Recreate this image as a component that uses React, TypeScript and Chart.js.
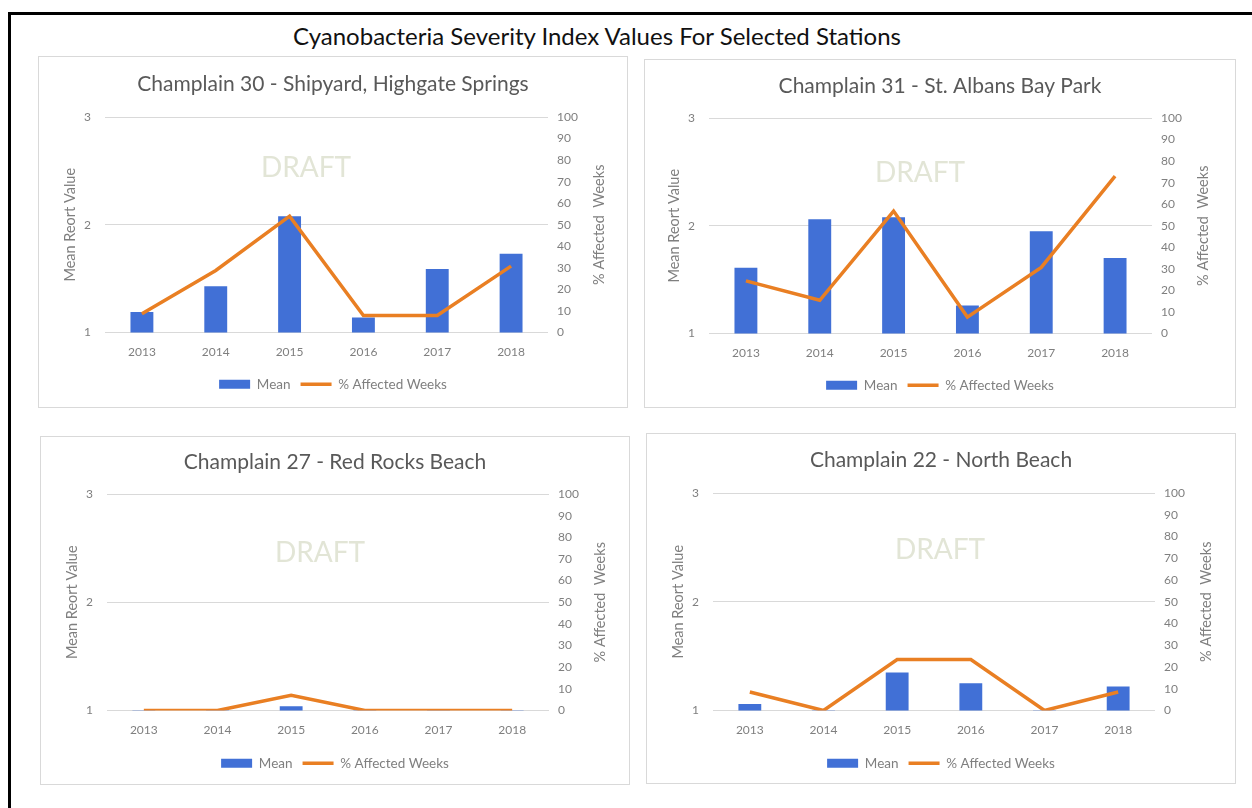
import React, { useEffect, useRef } from 'react';
import { Chart, registerables } from 'chart.js';

Chart.register(...registerables);

// ---------- data ----------
const years = ['2013', '2014', '2015', '2016', '2017', '2018'];
const mainTitle = 'Cyanobacteria Severity Index Values For Selected Stations';
const stationTitles = [
  'Champlain 30 - Shipyard, Highgate Springs',
  'Champlain 31 - St. Albans Bay Park',
  'Champlain 27 - Red Rocks Beach',
  'Champlain 22 - North Beach',
];
const mean30 = [1.19, 1.43, 2.08, 1.14, 1.59, 1.73];
const pct30 = [8.7, 28.8, 54, 7.9, 7.9, 30.8];
const mean31 = [1.61, 2.06, 2.08, 1.26, 1.95, 1.7];
const pct31 = [24.4, 15.4, 56.8, 7.6, 30.7, 73];
const mean27 = [1, 1, 1.04, 1, 1, 1];
const pct27 = [0, 0, 7, 0, 0, 0];
const mean22 = [1.06, 1, 1.35, 1.25, 1, 1.22];
const pct22 = [8.5, 0, 23.4, 23.4, 0, 8.5];
const leftTicks = { min: 1, max: 3, step: 1 };
const rightTicks = { min: 0, max: 100, step: 10 };
const seriesNames = ['Mean', '% Affected Weeks'];
const axisTitles = ['Mean Reort Value', '% Affected  Weeks'];
const watermark = 'DRAFT';

// ---------- styling / layout ----------
const FONT = 'Lato, "Open Sans", sans-serif';
const BLUE = '#4170D6';
const ORANGE = '#E97F23';

const panels = [
  { title: stationTitles[0], mean: mean30, pct: pct30, box: { left: 38, top: 56, width: 590, height: 352 }, yW: 66, y1W: 79, tTop: 14.4, tBot: 20.4, xH: 35, padB: 6, draft: [201, 51] },
  { title: stationTitles[1], mean: mean31, pct: pct31, box: { left: 644, top: 59, width: 592, height: 349 }, yW: 64, y1W: 83, tTop: 13.4, tBot: 19.4, xH: 35, padB: 5, draft: [211, 55] },
  { title: stationTitles[2], mean: mean27, pct: pct27, box: { left: 40, top: 436, width: 590, height: 349 }, yW: 66, y1W: 80, tTop: 12.4, tBot: 19.4, xH: 36, padB: 4, draft: [213, 59] },
  { title: stationTitles[3], mean: mean22, pct: pct22, box: { left: 646, top: 433, width: 590, height: 351 }, yW: 66, y1W: 80, tTop: 13.4, tBot: 20.4, xH: 36, padB: 3, draft: [227, 57] },
];

const extrasPlugin = {
  id: 'extras',
  beforeDatasetsDraw(chart: any, _args: any, opts: any) {
    const ca = chart.chartArea;
    const ctx = chart.ctx;
    ctx.save();
    ctx.font = `28px ${FONT}`;
    ctx.fillStyle = '#e2e5d6';
    ctx.textAlign = 'center';
    ctx.textBaseline = 'middle';
    ctx.fillText(watermark, ca.left + opts.draftX, ca.top + opts.draftY);
    ctx.restore();
  },
  afterDraw(chart: any) {
    const ca = chart.chartArea;
    const ctx = chart.ctx;
    const cy = (ca.top + ca.bottom) / 2;
    const drawV = (text: string, x: number) => {
      ctx.save();
      ctx.font = `14.5px ${FONT}`;
      ctx.fillStyle = '#7f7f7f';
      ctx.textAlign = 'center';
      ctx.textBaseline = 'middle';
      ctx.translate(x, cy);
      ctx.rotate(-Math.PI / 2);
      ctx.fillText(text, 0, 0);
      ctx.restore();
    };
    drawV(axisTitles[0], ca.left - 35);
    drawV(axisTitles[1], ca.right + 51);
  },
};

function Panel({ cfg }: { cfg: any }) {
  const ref = useRef<HTMLCanvasElement | null>(null);
  useEffect(() => {
    if (!ref.current) return;
    const chart = new Chart(ref.current, {
      type: 'bar',
      data: {
        labels: years,
        datasets: [
          {
            type: 'bar',
            label: seriesNames[0],
            data: cfg.mean,
            yAxisID: 'y',
            backgroundColor: BLUE,
            borderWidth: 0,
            barPercentage: 0.31,
            categoryPercentage: 1,
            pointStyle: 'rect',
            order: 2,
          } as any,
          {
            type: 'line',
            label: seriesNames[1],
            data: cfg.pct,
            yAxisID: 'y1',
            borderColor: ORANGE,
            backgroundColor: ORANGE,
            borderWidth: 3.5,
            pointRadius: 0,
            pointStyle: 'line',
            tension: 0,
            order: 1,
          } as any,
        ],
      },
      options: {
        responsive: false,
        animation: false,
        layout: { padding: { left: 0, right: 0, top: 0, bottom: cfg.padB } },
        scales: {
          x: {
            grid: { display: false, drawTicks: false },
            border: { display: false },
            ticks: { color: '#7f7f7f', font: { family: FONT, size: 12 }, padding: 12, maxRotation: 0 },
            afterFit: (s: any) => { s.height = cfg.xH; },
          },
          y: {
            position: 'left',
            min: leftTicks.min,
            max: leftTicks.max,
            grid: { color: '#d9d9d9', lineWidth: 1, drawTicks: false },
            border: { display: false },
            ticks: { stepSize: leftTicks.step, color: '#7f7f7f', font: { family: FONT, size: 12 }, padding: 14 },
            afterFit: (s: any) => { s.width = cfg.yW; },
          },
          y1: {
            position: 'right',
            min: rightTicks.min,
            max: rightTicks.max,
            grid: { display: false, drawTicks: false },
            border: { display: false },
            ticks: { stepSize: rightTicks.step, color: '#7f7f7f', font: { family: FONT, size: 12 }, padding: 9 },
            afterFit: (s: any) => { s.width = cfg.y1W; },
          },
        },
        plugins: {
          title: {
            display: true,
            text: cfg.title,
            color: '#595959',
            font: { family: FONT, size: 21, weight: 'normal', lineHeight: 1.2 },
            padding: { top: cfg.tTop, bottom: cfg.tBot },
          },
          legend: {
            display: true,
            position: 'bottom',
            labels: {
              usePointStyle: true,
              pointStyleWidth: 31,
              boxHeight: 9,
              padding: 10,
              color: '#7f7f7f',
              font: { family: FONT, size: 13.5 },
              sort: (a: any, b: any) => a.datasetIndex - b.datasetIndex,
            },
          },
          tooltip: { enabled: false },
          extras: { draftX: cfg.draft[0], draftY: cfg.draft[1] },
        } as any,
      },
      plugins: [extrasPlugin as any],
    });
    return () => chart.destroy();
  }, [cfg]);
  const b = cfg.box;
  return (
    <div
      style={{
        position: 'absolute',
        left: b.left,
        top: b.top,
        width: b.width,
        height: b.height,
        boxSizing: 'border-box',
        border: '1px solid #d9d9d9',
        background: '#fff',
      }}
    >
      <canvas ref={ref} width={b.width - 2} height={b.height - 2} style={{ display: 'block' }} />
    </div>
  );
}

export default function App() {
  return (
    <div style={{ position: 'absolute', left: 0, top: 0, width: 1252, height: 808, background: '#fff', overflow: 'hidden', fontFamily: FONT }}>
      <div
        style={{
          position: 'absolute',
          left: 8,
          top: 12,
          width: 1260,
          height: 820,
          borderTop: '3px solid #000',
          borderLeft: '3px solid #000',
        }}
      />
      <div
        style={{
          position: 'absolute',
          left: 0,
          top: 21,
          width: 1194,
          textAlign: 'center',
          fontSize: 24,
          lineHeight: '30px',
          color: '#111',
          fontFamily: FONT,
        }}
      >
        {mainTitle}
      </div>
      {panels.map((p, i) => (
        <Panel key={i} cfg={p} />
      ))}
    </div>
  );
}
